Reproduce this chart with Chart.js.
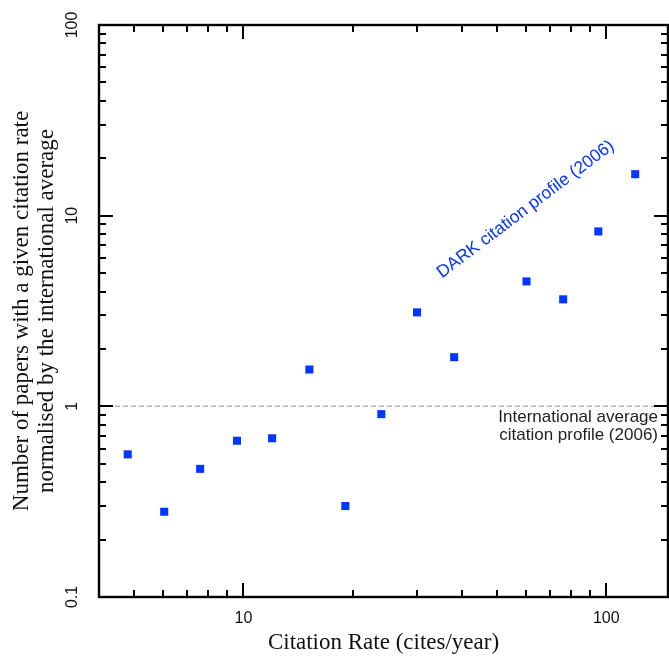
<!DOCTYPE html>
<html>
<head>
<meta charset="utf-8">
<style>
  html, body { margin: 0; padding: 0; background: #fff; }
  #wrap { width: 669px; height: 662px; }
</style>
<script src="https://cdn.jsdelivr.net/npm/chart.js@4.4.1/dist/chart.umd.min.js"></script>
</head>
<body>
<div id="wrap"><canvas id="citeChart"></canvas></div>
<script>
/* ─── DATA ─────────────────────────────────────────────── */
const citeRate    = [4.8, 6.05, 7.6, 9.6, 12.0, 15.2, 19.1, 24.0, 30.1, 38.1, 60.3, 76.1, 95.1, 120.2];
const papersRatio = [0.56, 0.28, 0.47, 0.66, 0.68, 1.56, 0.30, 0.91, 3.11, 1.81, 4.52, 3.64, 8.27, 16.5];

const xRange       = [4, 148];
const yRange       = [0.1, 100];
const xTickLabels  = [10, 100];
const yTickLabels  = [0.1, 1, 10, 100];
const averageLevel = 1;

const darkBlue  = '#0336ff';
const sansFont  = "'Liberation Sans', Arial, Helvetica, sans-serif";
const serifFont = "'Liberation Serif', 'Times New Roman', serif";

Chart.defaults.font.family = sansFont;
Chart.defaults.color = '#111';

/* ─── FRAME PLUGIN ─────────────────────────────────────
   Closed box with inward log ticks on all four sides,
   rotated y tick labels and the two text annotations.  */
function logTickValues(min, max) {
  const out = [];
  for (let d = Math.floor(Math.log10(min)); d <= Math.ceil(Math.log10(max)); d++) {
    for (let k = 1; k <= 9; k++) {
      const v = k * Math.pow(10, d);
      if (v >= min && v <= max) out.push({ v, major: k === 1 });
    }
  }
  return out;
}

const framePlugin = {
  id: 'frame',
  afterDatasetsDraw(chart) {
    const { ctx, chartArea: a, scales: { x, y } } = chart;
    ctx.save();

    // tick marks
    ctx.strokeStyle = '#000';
    ctx.lineWidth = 2;
    ctx.beginPath();
    logTickValues(xRange[0], xRange[1]).forEach(t => {
      const px = Math.round(x.getPixelForValue(t.v));
      const len = t.major ? 14 : 7;
      ctx.moveTo(px, a.bottom); ctx.lineTo(px, a.bottom - len);
      ctx.moveTo(px, a.top);    ctx.lineTo(px, a.top + len);
    });
    logTickValues(yRange[0], yRange[1]).forEach(t => {
      const py = Math.round(y.getPixelForValue(t.v));
      const len = t.major ? 14 : 7;
      ctx.moveTo(a.left, py);  ctx.lineTo(a.left + len, py);
      ctx.moveTo(a.right, py); ctx.lineTo(a.right - len, py);
    });
    ctx.stroke();

    // box
    ctx.lineWidth = 2.4;
    ctx.strokeRect(a.left, a.top, a.right - a.left, a.bottom - a.top);

    // y tick labels, rotated like the original
    ctx.fillStyle = '#111';
    ctx.font = '16px ' + sansFont;
    ctx.textAlign = 'center';
    ctx.textBaseline = 'middle';
    yTickLabels.forEach(v => {
      ctx.save();
      ctx.translate(a.left - 26, y.getPixelForValue(v));
      ctx.rotate(-Math.PI / 2);
      ctx.fillText(String(v), 0, 0);
      ctx.restore();
    });

    // DARK profile label
    ctx.save();
    ctx.fillStyle = darkBlue;
    ctx.font = '17.5px ' + sansFont;
    ctx.translate(x.getPixelForValue(60), y.getPixelForValue(10.8));
    ctx.rotate(-37 * Math.PI / 180);
    ctx.fillText('DARK citation profile (2006)', 0, 0);
    ctx.restore();

    // international average label
    const py = y.getPixelForValue(averageLevel);
    ctx.fillStyle = '#222';
    ctx.font = '17px ' + sansFont;
    ctx.textAlign = 'right';
    ctx.textBaseline = 'alphabetic';
    ctx.fillText('International average', a.right - 10, py + 16);
    ctx.fillText('citation profile (2006)', a.right - 10, py + 34);

    ctx.restore();
  }
};

/* ─── CHART ─────────────────────────────────────────── */
new Chart(document.getElementById('citeChart'), {
  type: 'scatter',
  data: {
    datasets: [
      {
        label: 'DARK citation profile (2006)',
        data: citeRate.map((c, i) => ({ x: c, y: papersRatio[i] })),
        pointStyle: 'rect',
        pointRadius: 5.7,
        pointHoverRadius: 5.7,
        pointBackgroundColor: darkBlue,
        pointBorderWidth: 0,
        showLine: false
      },
      {
        label: 'International average',
        data: xRange.map(c => ({ x: c, y: averageLevel })),
        showLine: true,
        borderColor: '#b4b4b4',
        borderWidth: 1.5,
        borderDash: [5, 3],
        pointRadius: 0
      }
    ]
  },
  options: {
    responsive: true,
    maintainAspectRatio: false,
    animation: false,
    layout: { autoPadding: false, padding: { top: 25, right: 1, left: 0, bottom: 0 } },
    plugins: { legend: { display: false }, tooltip: { enabled: false } },
    scales: {
      x: {
        type: 'logarithmic',
        min: xRange[0],
        max: xRange[1],
        grid: { display: false, drawTicks: false },
        border: { display: false },
        afterBuildTicks: s => { s.ticks = xTickLabels.map(v => ({ value: v })); },
        afterFit: s => { s.height = 65; s.paddingLeft = 0; s.paddingRight = 0; },
        ticks: { autoSkip: false, padding: 12, color: '#111', font: { size: 16 }, callback: v => String(v) },
        title: {
          display: true,
          text: 'Citation Rate (cites/year)',
          color: '#111',
          font: { family: serifFont, size: 23, lineHeight: 1.2 },
          padding: { top: 0, bottom: 5 }
        }
      },
      y: {
        type: 'logarithmic',
        min: yRange[0],
        max: yRange[1],
        grid: { display: false, drawTicks: false },
        border: { display: false },
        ticks: { display: false },
        afterFit: s => { s.width = 99; s.paddingTop = 0; s.paddingBottom = 0; },
        title: {
          display: true,
          text: ['Number of papers with a given citation rate', 'normalised by the international average'],
          color: '#111',
          font: { family: serifFont, size: 23, lineHeight: 1.07 },
          padding: { top: 10, bottom: 0 }
        }
      }
    }
  },
  plugins: [framePlugin]
});
</script>
</body>
</html>
